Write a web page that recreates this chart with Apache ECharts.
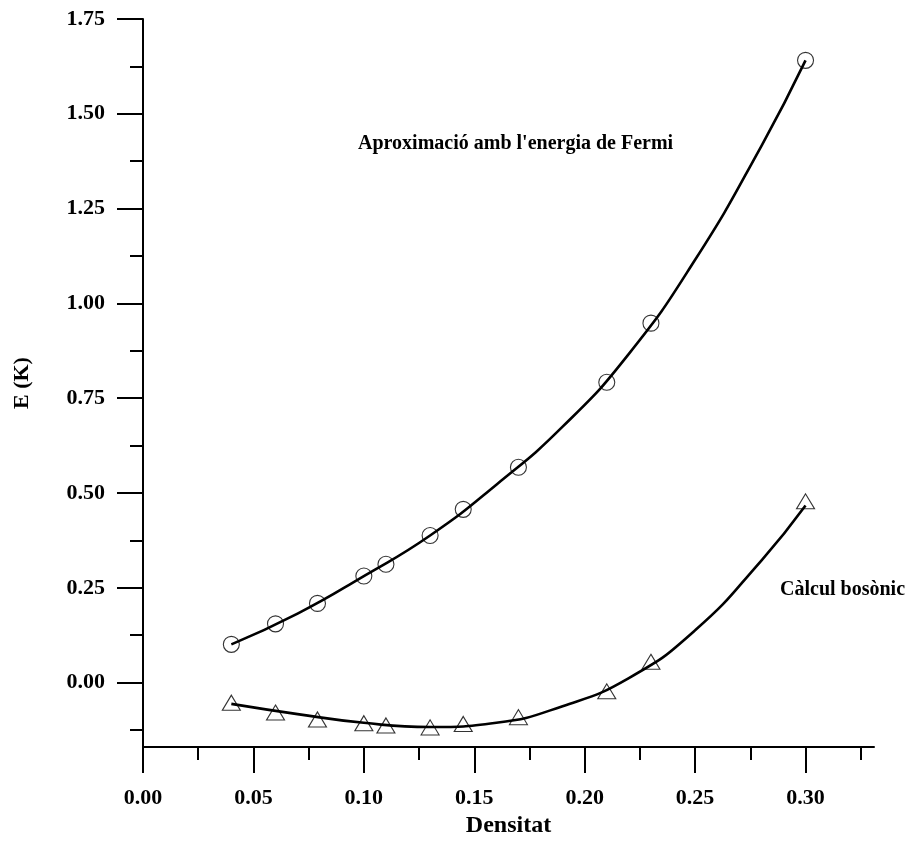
<!DOCTYPE html>
<html>
<head>
<meta charset="utf-8">
<script src="https://cdn.jsdelivr.net/npm/echarts@6/dist/echarts.min.js"></script>
<style>
html,body{margin:0;padding:0;background:#fff;}
#chart{width:914px;height:843px;}
</style>
</head>
<body>
<div id="chart"></div>
<script>
// Data
const densitat = [0.04, 0.06, 0.079, 0.10, 0.11, 0.13, 0.145, 0.17, 0.21, 0.23, 0.30];
const fermiE   = [0.101, 0.155, 0.209, 0.281, 0.312, 0.388, 0.457, 0.568, 0.792, 0.948, 1.641];
const bosonE   = [-0.053, -0.079, -0.097, -0.107, -0.113, -0.118, -0.109, -0.091, -0.023, 0.055, 0.478];

// Fitted curves at evenly spaced densities
const fitX      = [0.04, 0.07, 0.10, 0.13, 0.16, 0.19, 0.22, 0.25, 0.28, 0.30];
const fermiFitY = [0.101, 0.182, 0.281, 0.388, 0.522, 0.675, 0.867, 1.115, 1.415, 1.641];
const bosonFitY = [-0.056, -0.083, -0.106, -0.117, -0.106, -0.062, 0.012, 0.138, 0.322, 0.467];

// Tick labels
const xTicks = [0.00, 0.05, 0.10, 0.15, 0.20, 0.25, 0.30];
const xMinorTicks = [0.025, 0.075, 0.125, 0.175, 0.225, 0.275, 0.325];
const yTicks = [0.00, 0.25, 0.50, 0.75, 1.00, 1.25, 1.50, 1.75];
const yMinorTicks = [-0.125, 0.125, 0.375, 0.625, 0.875, 1.125, 1.375, 1.625];

const xName = 'Densitat';
const yName = 'E (K)';
const fermiLabel = "Aproximació amb l'energia de Fermi";
const bosonLabel = 'Càlcul bosònic';

const FONT = "'Liberation Serif', 'Times New Roman', serif";
const X_MIN = 0, X_MAX = 0.331, Y_MIN = -0.17, Y_MAX = 1.75;

const zip = (a, b) => a.map((v, i) => [v, b[i]]);

const chart = echarts.init(document.getElementById('chart'), null, {renderer: 'canvas'});

const axisLineStyle = {color: '#000', width: 2};
const labelStyle = {color: '#000', fontFamily: FONT, fontWeight: 'bold', fontSize: 22};

chart.setOption({
  animation: false,
  backgroundColor: '#fff',
  grid: {left: 143, right: 40, top: 19, bottom: 95, containLabel: false},
  xAxis: [
    {
      type: 'value', min: X_MIN, max: X_MAX,
      name: xName, nameLocation: 'middle', nameGap: 63,
      nameTextStyle: {color: '#000', fontFamily: FONT, fontWeight: 'bold', fontSize: 24},
      axisLine: {show: true, onZero: false, lineStyle: axisLineStyle},
      axisTick: {show: true, inside: false, length: 26, customValues: xTicks, lineStyle: axisLineStyle},
      axisLabel: Object.assign({show: true, margin: 40, customValues: xTicks, formatter: v => v.toFixed(2)}, labelStyle),
      splitLine: {show: false}
    },
    {
      type: 'value', min: X_MIN, max: X_MAX, position: 'bottom',
      axisLine: {show: false, onZero: false},
      axisTick: {show: true, inside: false, length: 13, customValues: xMinorTicks, lineStyle: axisLineStyle},
      axisLabel: {show: false},
      splitLine: {show: false}
    }
  ],
  yAxis: [
    {
      type: 'value', min: Y_MIN, max: Y_MAX,
      name: yName, nameLocation: 'middle', nameGap: 110, nameRotate: 90,
      nameTextStyle: {color: '#000', fontFamily: FONT, fontWeight: 'bold', fontSize: 22},
      axisLine: {show: true, onZero: false, lineStyle: axisLineStyle},
      axisTick: {show: true, inside: false, length: 26, customValues: yTicks, lineStyle: axisLineStyle},
      axisLabel: Object.assign({show: true, margin: 38, customValues: yTicks, formatter: v => v.toFixed(2)}, labelStyle),
      splitLine: {show: false}
    },
    {
      type: 'value', min: Y_MIN, max: Y_MAX, position: 'left',
      axisLine: {show: false, onZero: false},
      axisTick: {show: true, inside: false, length: 13, customValues: yMinorTicks, lineStyle: axisLineStyle},
      axisLabel: {show: false},
      splitLine: {show: false}
    }
  ],
  series: [
    {
      name: 'fermiFit', type: 'line', data: zip(fitX, fermiFitY),
      smooth: 0.5, showSymbol: false, symbol: 'none',
      lineStyle: {color: '#000', width: 2.6}, z: 3
    },
    {
      name: 'bosonFit', type: 'line', data: zip(fitX, bosonFitY),
      smooth: 0.5, showSymbol: false, symbol: 'none',
      lineStyle: {color: '#000', width: 2.6}, z: 3
    },
    {
      name: 'fermi', type: 'scatter', data: zip(densitat, fermiE),
      symbol: 'circle', symbolSize: 16,
      itemStyle: {color: 'rgba(0,0,0,0)', borderColor: '#000', borderWidth: 1.1}, z: 4
    },
    {
      name: 'boson', type: 'scatter', data: zip(densitat, bosonE),
      symbol: 'triangle', symbolSize: [18, 15],
      itemStyle: {color: 'rgba(0,0,0,0)', borderColor: '#000', borderWidth: 1.1}, z: 4
    }
  ],
  graphic: [
    {
      type: 'text', left: 358, top: 134, silent: true,
      style: {text: fermiLabel, fill: '#000', font: "bold 20px " + FONT}
    },
    {
      type: 'text', left: 780, top: 580, silent: true,
      style: {text: bosonLabel, fill: '#000', font: "bold 20px " + FONT}
    }
  ]
});
</script>
</body>
</html>
